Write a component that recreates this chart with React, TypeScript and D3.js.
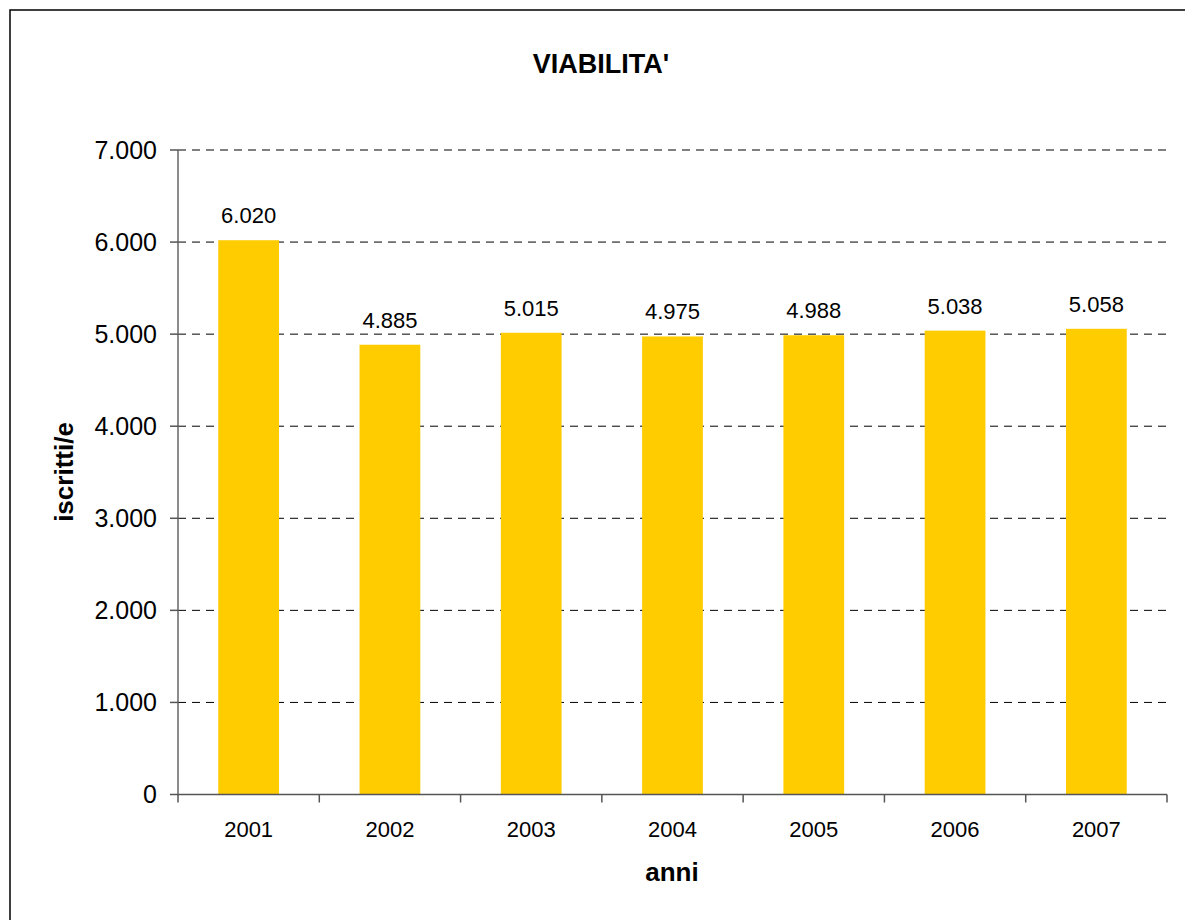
import React from "react";
import * as d3 from "d3";

const categories = ["2001", "2002", "2003", "2004", "2005", "2006", "2007"];
const values = [6020, 4885, 5015, 4975, 4988, 5038, 5058];
const yTicks = [0, 1000, 2000, 3000, 4000, 5000, 6000, 7000];

const fmt = (v: number) => (v === 0 ? "0" : d3.format(",")(v).replace(/,/g, "."));

export default function App() {
  const W = 1185, H = 920;
  const left = 178, right = 1167, top = 150, bottom = 794.5;
  const x = d3.scaleBand<string>().domain(categories).range([left, right]).paddingInner(0.57).paddingOuter(0.285);
  const xb = d3.scaleBand<string>().domain(categories).range([left, right]);
  const y = d3.scaleLinear().domain([0, 7000]).range([bottom, top]);
  const font = "'Liberation Sans', Arial, sans-serif";
  return (
    <svg width={W} height={H} style={{ position: "absolute", left: 0, top: 0, background: "#fff" }} fontFamily={font}>
      <rect x={10} y={10} width={1300} height={1000} fill="#fff" stroke="#000" strokeWidth={1.5} />
      <text x={601} y={73} textAnchor="middle" fontSize={27} fontWeight="bold">VIABILITA'</text>
      {yTicks.filter((t) => t > 0).map((t) => (
        <line key={"g" + t} x1={left} x2={right} y1={y(t)} y2={y(t)} stroke="#000" strokeWidth={1} strokeDasharray="8,6" />
      ))}
      {categories.map((c, i) => (
        <rect key={c} x={x(c)} y={y(values[i])} width={x.bandwidth()} height={bottom - y(values[i])} fill="#FFCC00" />
      ))}
      {categories.map((c, i) => (
        <text key={"l" + c} x={(x(c) as number) + x.bandwidth() / 2} y={y(values[i]) - 17} textAnchor="middle" fontSize={22} fill="#000">{fmt(values[i])}</text>
      ))}
      <line x1={left} x2={left} y1={top} y2={bottom} stroke="#666" strokeWidth={1.5} />
      <line x1={left} x2={right} y1={bottom} y2={bottom} stroke="#555" strokeWidth={1.5} />
      {yTicks.map((t) => (
        <g key={"t" + t}>
          <line x1={170} x2={left} y1={y(t)} y2={y(t)} stroke="#555" strokeWidth={1.5} />
          <text x={157} y={y(t)} dy="0.35em" textAnchor="end" fontSize={25}>{fmt(t)}</text>
        </g>
      ))}
      {[...categories.map((c) => xb(c) as number), right].map((px, i) => (
        <line key={"xt" + i} x1={px} x2={px} y1={bottom} y2={bottom + 8} stroke="#555" strokeWidth={1.5} />
      ))}
      {categories.map((c) => (
        <text key={"xl" + c} x={(xb(c) as number) + xb.bandwidth() / 2} y={837} textAnchor="middle" fontSize={22}>{c}</text>
      ))}
      <text x={672} y={881} textAnchor="middle" fontSize={26} fontWeight="bold">anni</text>
      <text transform={`translate(73,472) rotate(-90)`} textAnchor="middle" fontSize={26} fontWeight="bold">iscritti/e</text>
    </svg>
  );
}
